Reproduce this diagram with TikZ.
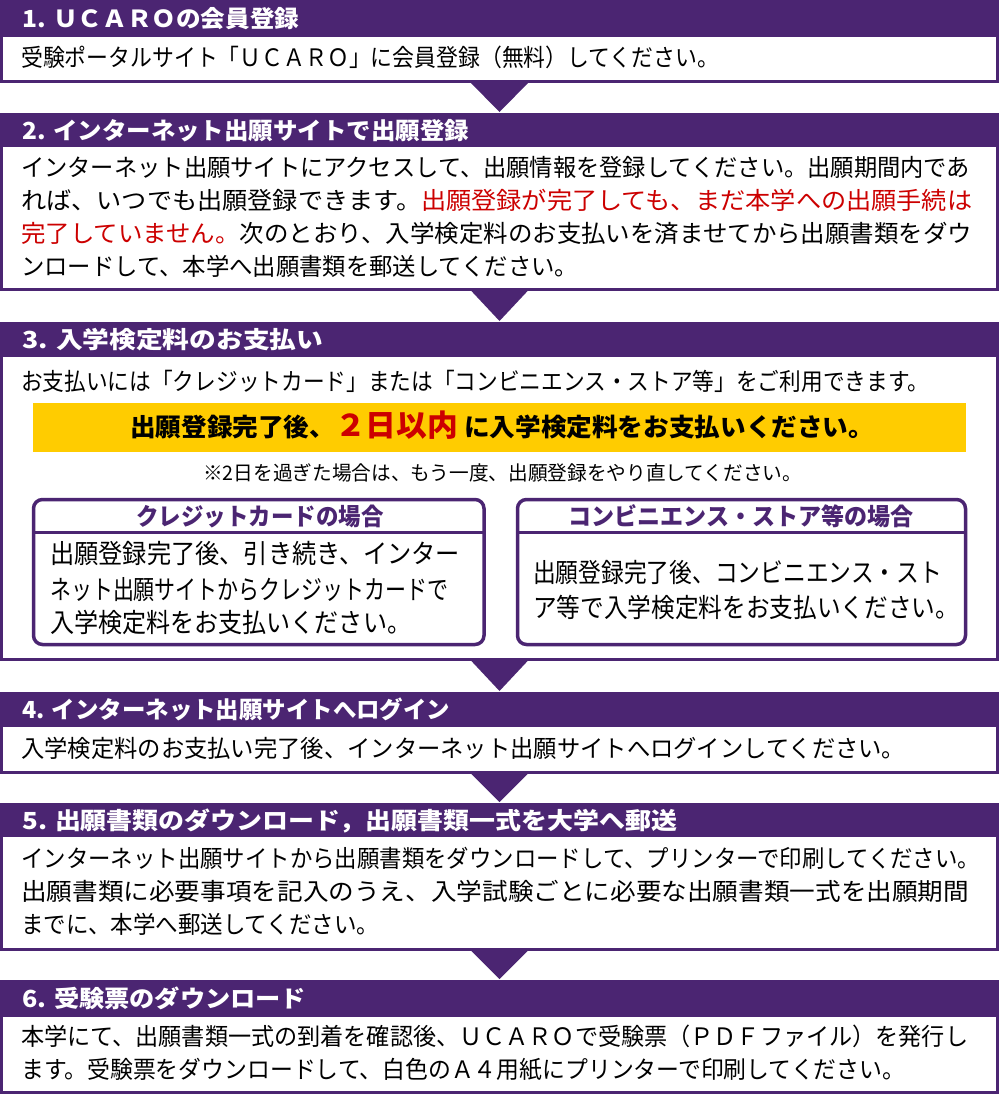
\documentclass[tikz,border=0pt]{standalone}
\usepackage{fontspec}
\usepackage{graphicx}
\setmainfont{Noto Sans CJK JP}
\usetikzlibrary{calc}
\definecolor{upurple}{RGB}{75,37,114}
\definecolor{ured}{RGB}{204,0,0}
\definecolor{uyellow}{RGB}{255,204,0}
\newcommand\fitw[2]{\resizebox{#1}{\height}{#2}}
\newcommand\fitwt[2]{\resizebox{#1}{1.1\height}{#2}}
\tikzset{
  hdr/.style={fill=upurple, draw=none, minimum width=999pt, inner sep=0pt, outer sep=0pt},
  bodybox/.style={draw=upurple, line width=3pt, fill=white, minimum width=996pt, inner sep=0pt, outer sep=0pt},
  htext/.style={anchor=west, inner sep=0pt, text=white, font=\fontsize{23.5}{28}\selectfont\bfseries, text height=20pt, text depth=4pt},
  btext/.style={anchor=west, inner sep=0pt, font=\fontsize{24}{29}\selectfont, text height=20pt, text depth=4pt},
  subtext/.style={anchor=west, inner sep=0pt, font=\fontsize{24}{29}\selectfont, text height=20pt, text depth=4pt},
  subhead/.style={inner sep=0pt, text=upurple, font=\fontsize{24}{28}\selectfont\bfseries, text height=21pt, text depth=3pt},
  subbox/.style={draw=upurple, line width=3.5pt, rounded corners=9pt, fill=white, inner sep=0pt, outer sep=0pt},
  chev/.style={fill=upurple, draw=none},
}
\begin{document}
\begin{tikzpicture}[x=1pt,y=-1pt]
\useasboundingbox (0,0) rectangle (1000,1096);

% ---------- Step 1
\node[bodybox, minimum height=46.5pt] (b1) at (499.5,58.25) {};
\node[hdr, minimum height=35pt] (h1) at (499.5,17.5) {};
\node[htext] (h1t) at (22,19.5) {\fitw{277pt}{1. ＵＣＡＲＯの会員登録}};
\node[btext] (b1l1) at (21,58) {\fitw{698pt}{受験ポータルサイト「ＵＣＡＲＯ」に会員登録（無料）してください。}};

% ---------- Step 2
\node[bodybox, minimum height=144pt] (b2) at (499.5,217) {};
\node[hdr, minimum height=32pt] (h2) at (499.5,129) {};
\node[htext] (h2t) at (22,131) {\fitw{447pt}{2. インターネット出願サイトで出願登録}};
\node[btext] (b2l1) at (21,168) {\fitw{949pt}{インターネット出願サイトにアクセスして、出願情報を登録してください。出願期間内であ}};
\node[btext] (b2l2) at (21,201) {\fitw{951pt}{れば、いつでも出願登録できます。\textcolor{ured}{出願登録が完了しても、まだ本学への出願手続は}}};
\node[btext] (b2l3) at (21,234) {\fitw{951pt}{\textcolor{ured}{完了していません。}次のとおり、入学検定料のお支払いを済ませてから出願書類をダウ}};
\node[btext] (b2l4) at (21,267) {\fitw{557pt}{ンロードして、本学へ出願書類を郵送してください。}};

% ---------- Step 3
\node[bodybox, minimum height=304pt] (b3) at (499.5,507) {};
\node[hdr, minimum height=33pt] (h3) at (499.5,338.5) {};
\node[htext] (h3t) at (22,340.5) {\fitw{301pt}{3. 入学検定料のお支払い}};
\node[btext] (b3l1) at (21,382) {\fitw{908pt}{お支払いには「クレジットカード」または「コンビニエンス・ストア等」をご利用できます。}};
\node[fill=uyellow, minimum width=933pt, minimum height=49pt, inner sep=0pt, outer sep=0pt] (yb) at (499.5,427.5) {};
\node[anchor=west, inner sep=0pt, font=\fontsize{25}{30}\selectfont\bfseries, text height=21pt, text depth=4pt] (yt) at (130,428)
  {\fitw{744pt}{出願登録完了後、{\fontsize{30}{36}\selectfont\textcolor{ured}{２日以内}}\hspace{6pt}に入学検定料をお支払いください。}};
\node[anchor=west, inner sep=0pt, font=\fontsize{20}{24}\selectfont, text height=17pt, text depth=3pt] (note) at (203,473)
  {\fitw{599pt}{※2日を過ぎた場合は、もう一度、出願登録をやり直してください。}};

\coordinate (sepy) at (0,532);
\node[subbox, minimum width=450.5pt, minimum height=145pt] (cb) at (258.75,572) {};
\draw[upurple, line width=3pt] (cb.west |- sepy) -- (cb.east |- sepy);
\node[subhead] (cbt) at (260,516) {\fitw{247pt}{クレジットカードの場合}};
\node[subtext] (cbl1) at (50,555.5) {\fitwt{410pt}{出願登録完了後、引き続き、インター}};
\node[subtext] (cbl2) at (50,591) {\fitwt{398pt}{ネット出願サイトからクレジットカードで}};
\node[subtext] (cbl3) at (50,624.5) {\fitwt{361pt}{入学検定料をお支払いください。}};

\node[subbox, minimum width=448pt, minimum height=145pt] (sb) at (741.5,572) {};
\draw[upurple, line width=3pt] (sb.west |- sepy) -- (sb.east |- sepy);
\node[subhead] (sbt) at (741,516) {\fitw{345pt}{コンビニエンス・ストア等の場合}};
\node[subtext] (sbl1) at (533,574) {\fitwt{409pt}{出願登録完了後、コンビニエンス・スト}};
\node[subtext] (sbl2) at (533,609) {\fitwt{426pt}{ア等で入学検定料をお支払いください。}};

% ---------- Step 4
\node[bodybox, minimum height=47pt] (b4) at (499.5,748.5) {};
\node[hdr, minimum height=33pt] (h4) at (499.5,708.5) {};
\node[htext] (h4t) at (22,710.5) {\fitw{428pt}{4. インターネット出願サイトへログイン}};
\node[btext] (b4l1) at (21,749) {\fitw{884pt}{入学検定料のお支払い完了後、インターネット出願サイトへログインしてください。}};

% ---------- Step 5
\node[bodybox, minimum height=114pt] (b5) at (499.5,892) {};
\node[hdr, minimum height=32pt] (h5) at (499.5,819) {};
\node[htext] (h5t) at (22,821) {\fitw{655pt}{5. 出願書類のダウンロード，出願書類一式を大学へ郵送}};
\node[btext] (b5l1) at (21,859) {\fitw{959pt}{インターネット出願サイトから出願書類をダウンロードして、プリンターで印刷してください。}};
\node[btext] (b5l2) at (21,892) {\fitw{948pt}{出願書類に必要事項を記入のうえ、入学試験ごとに必要な出願書類一式を出願期間}};
\node[btext] (b5l3) at (21,925) {\fitw{358pt}{までに、本学へ郵送してください。}};

% ---------- Step 6
\node[bodybox, minimum height=77pt] (b6) at (499.5,1053.5) {};
\node[hdr, minimum height=35pt] (h6) at (499.5,997.5) {};
\node[htext] (h6t) at (22,999.5) {\fitw{284pt}{6. 受験票のダウンロード}};
\node[btext] (b6l1) at (21,1037) {\fitw{947pt}{本学にて、出願書類一式の到着を確認後、ＵＣＡＲＯで受験票（ＰＤＦファイル）を発行し}};
\node[btext] (b6l2) at (21,1070) {\fitw{884pt}{ます。受験票をダウンロードして、白色のＡ４用紙にプリンターで印刷してください。}};

% ---------- chevrons
\fill[chev] ($(b1.south)+(-30,0)$) -- ($(b1.south)+(30,0)$) -- ($(h2.north)+(0,-1)$) -- cycle;
\fill[chev] ($(b2.south)+(-30,0)$) -- ($(b2.south)+(30,0)$) -- ($(h3.north)+(0,-1)$) -- cycle;
\fill[chev] ($(b3.south)+(-30,0)$) -- ($(b3.south)+(30,0)$) -- ($(h4.north)+(0,-1)$) -- cycle;
\fill[chev] ($(b4.south)+(-30,0)$) -- ($(b4.south)+(30,0)$) -- ($(h5.north)+(0,-1)$) -- cycle;
\fill[chev] ($(b5.south)+(-30,0)$) -- ($(b5.south)+(30,0)$) -- ($(h6.north)+(0,-1)$) -- cycle;
\end{tikzpicture}
\end{document}
